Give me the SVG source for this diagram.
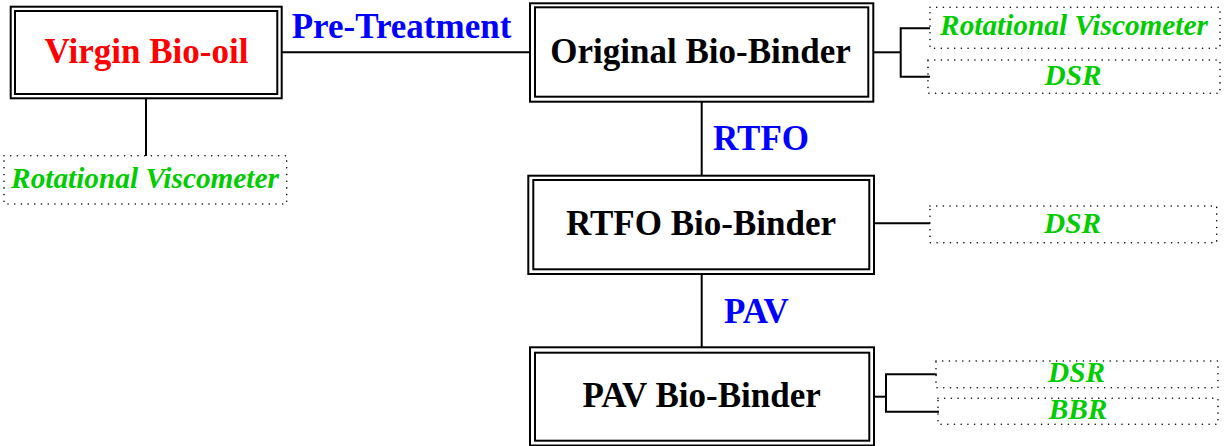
<svg xmlns="http://www.w3.org/2000/svg" width="1225" height="446" viewBox="0 0 1225 446">
<style>
.outer{fill:none;stroke:#000;stroke-width:2}
.inner{fill:none;stroke:#000;stroke-width:2}
.dot{fill:none;stroke:#000;stroke-width:1.6;stroke-linecap:round;stroke-dasharray:0 6.7}
.conn{fill:none;stroke:#000;stroke-width:2}
.t{font-family:"Liberation Serif","Times New Roman",serif;font-weight:bold;font-size:35px;text-anchor:middle}
.blk{fill:#000}
.red{fill:#ff0000}
.blue{fill:#0000ff}
.g{font-family:"Liberation Serif","Times New Roman",serif;font-weight:bold;font-style:italic;font-size:29.3px;fill:#00cc00;text-anchor:middle}
</style>
<rect width="1225" height="446" fill="#fff"/>
<g id="connectors">
<line class="conn" x1="282" y1="52.3" x2="530" y2="52.3"/>
<line class="conn" x1="146" y1="98.3" x2="146" y2="156"/>
<line class="conn" x1="873.3" y1="52.3" x2="900.7" y2="52.3"/>
<polyline class="conn" points="930,28.3 900.7,28.3 900.7,76.7 930,76.7"/>
<line class="conn" x1="701.7" y1="101.7" x2="701.7" y2="175.7"/>
<line class="conn" x1="874" y1="223.3" x2="930" y2="223.3"/>
<line class="conn" x1="701.7" y1="274" x2="701.7" y2="347.3"/>
<line class="conn" x1="874" y1="396.7" x2="886" y2="396.7"/>
<polyline class="conn" points="936.7,374.3 886,374.3 886,411.7 939,411.7"/>
<text class="t blue" x="401.5" y="37.7">Pre-Treatment</text>
<text class="t blue" x="713" y="150" style="text-anchor:start">RTFO</text>
<text class="t blue" x="724" y="322.7" style="text-anchor:start">PAV</text>
</g>
<g id="virgin">
<rect class="outer" x="10.7" y="6.7" width="271" height="91.6"/>
<rect class="inner" x="15" y="11" width="262.3" height="83"/>
<text class="t red" x="146.5" y="63.3">Virgin Bio-oil</text>
</g>
<g id="virgin-rv">
<rect class="dot" x="4" y="155.7" width="282.7" height="48.3"/>
<text class="g" x="145" y="188.3">Rotational Viscometer</text>
</g>
<g id="original">
<rect class="outer" x="530" y="3.3" width="343.3" height="98.4"/>
<rect class="inner" x="535" y="7.3" width="333.3" height="89.4"/>
<text class="t blk" x="700.5" y="63.3">Original Bio-Binder</text>
</g>
<g id="original-rv">
<rect class="dot" x="930" y="7.3" width="290" height="41"/>
<text class="g" x="1074" y="35">Rotational Viscometer</text>
</g>
<g id="original-dsr">
<rect class="dot" x="928" y="60" width="292" height="33.3"/>
<text class="g" x="1073" y="85">DSR</text>
</g>
<g id="rtfo">
<rect class="outer" x="528.3" y="175.7" width="345.7" height="98.3"/>
<rect class="inner" x="533.3" y="180" width="336" height="89.3"/>
<text class="t blk" x="701" y="235">RTFO Bio-Binder</text>
</g>
<g id="rtfo-dsr">
<rect class="dot" x="930" y="206" width="286.7" height="36.7"/>
<text class="g" x="1072.5" y="233.3">DSR</text>
</g>
<g id="pav">
<rect class="outer" x="530" y="347.3" width="344" height="98.2"/>
<rect class="inner" x="535" y="352.7" width="334.3" height="88"/>
<text class="t blk" x="701.7" y="407.3">PAV Bio-Binder</text>
</g>
<g id="pav-dsr">
<rect class="dot" x="936" y="361" width="282" height="26.7"/>
<text class="g" x="1076.5" y="382.3">DSR</text>
</g>
<g id="pav-bbr">
<rect class="dot" x="938" y="398.3" width="280" height="26"/>
<text class="g" x="1078" y="419">BBR</text>
</g>
</svg>
